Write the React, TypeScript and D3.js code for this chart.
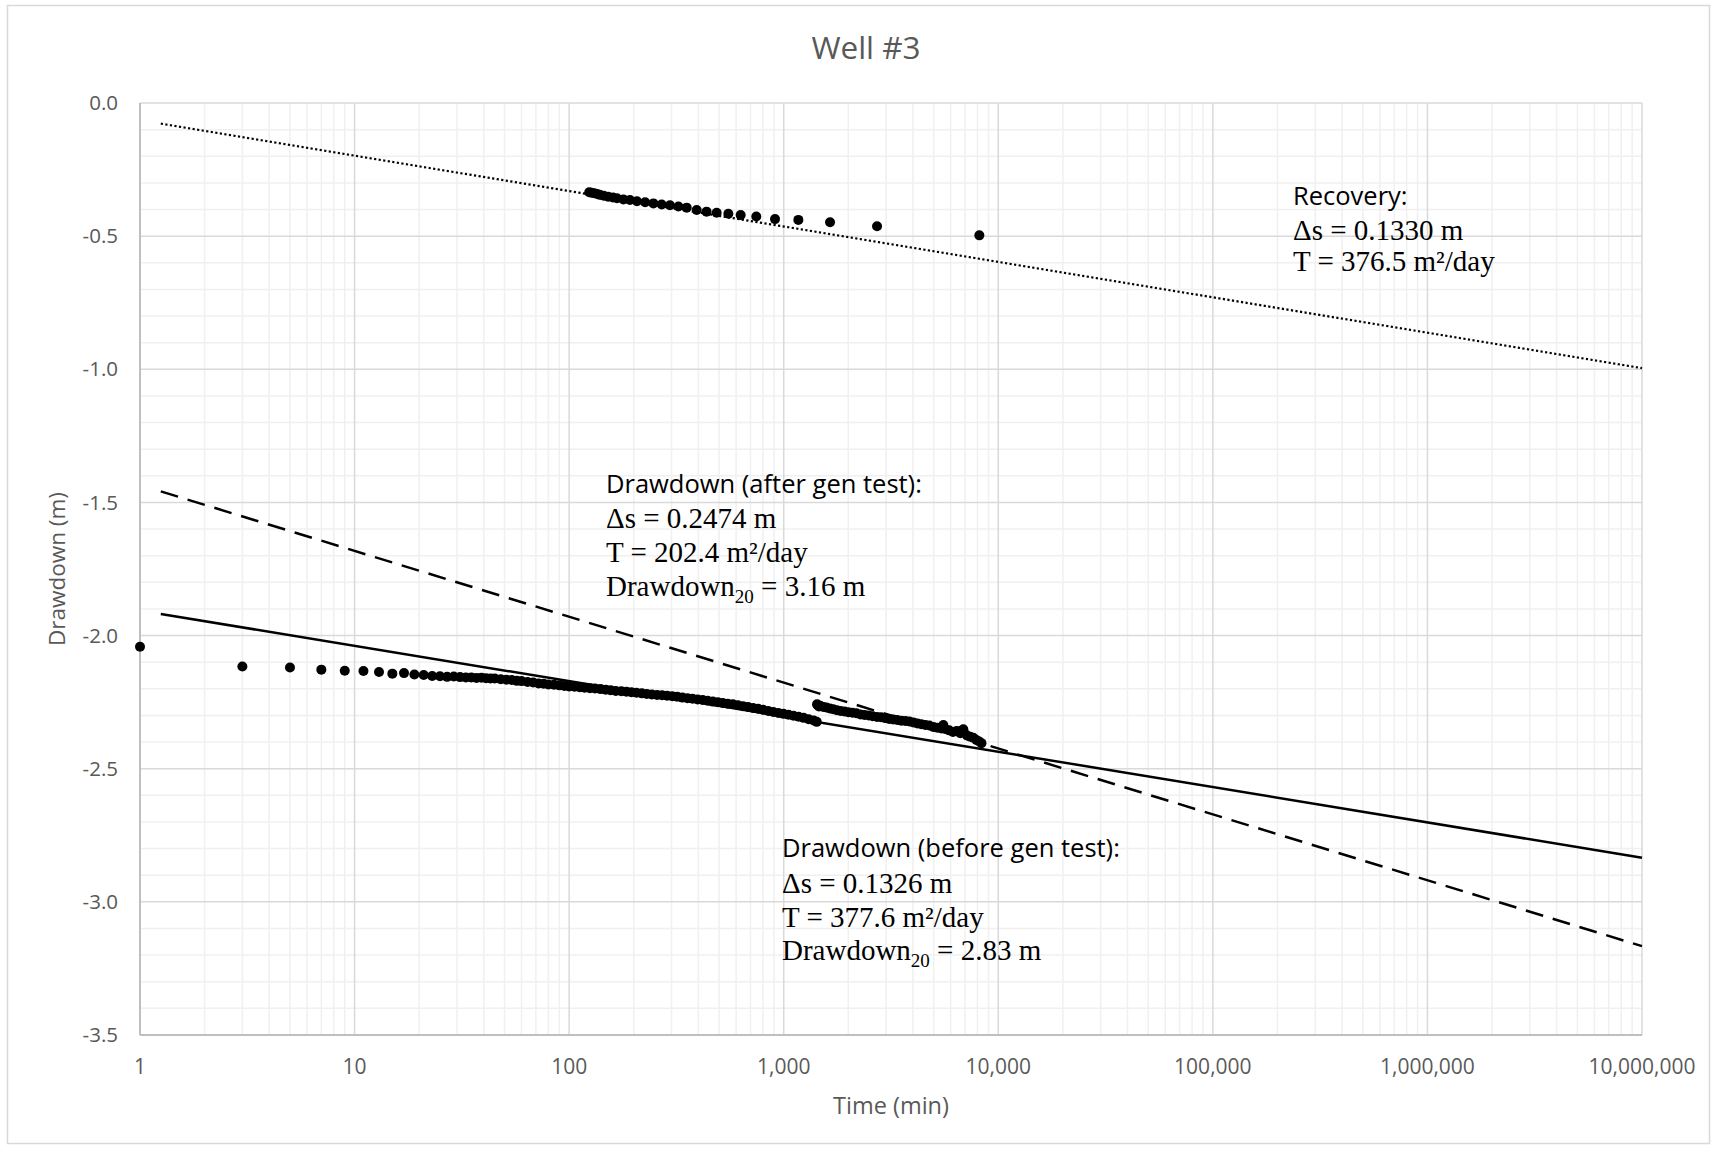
import * as d3 from "d3";
import { useEffect } from "react";

// recovery phase (upper cluster)
const recoveryTime = [124, 127, 131, 135, 139, 145, 152, 160, 167, 179, 192, 207, 226, 247, 270, 295, 323, 353, 393, 437, 487, 552, 630, 745, 911, 1170, 1644, 2722, 8160];
const recoveryDrawdown = [-0.335, -0.337, -0.339, -0.342, -0.345, -0.348, -0.352, -0.355, -0.358, -0.362, -0.364, -0.369, -0.373, -0.377, -0.381, -0.384, -0.389, -0.393, -0.402, -0.408, -0.412, -0.416, -0.421, -0.426, -0.436, -0.439, -0.448, -0.463, -0.497];

// drawdown before the generator test
const beforeTime = [1, 3, 5, 7, 9, 11, 13, 15, 17, 19, 21, 23, 25, 27, 29, 31, 33, 35, 37, 39, 41, 43, 45, 48, 51, 54, 57, 60, 64, 68, 72, 76, 80, 85, 90, 95, 100, 106, 112, 118, 125, 132, 140, 148, 156, 165, 175, 185, 195, 206, 218, 230, 243, 257, 271, 286, 302, 319, 337, 356, 376, 397, 419, 442, 467, 493, 520, 549, 580, 612, 646, 682, 720, 760, 802, 847, 894, 944, 997, 1052, 1111, 1173, 1238, 1307, 1380, 1425];
const beforeDrawdown = [-2.042, -2.116, -2.120, -2.128, -2.132, -2.133, -2.137, -2.143, -2.141, -2.146, -2.148, -2.152, -2.153, -2.155, -2.154, -2.156, -2.157, -2.157, -2.159, -2.158, -2.160, -2.161, -2.161, -2.164, -2.166, -2.167, -2.170, -2.171, -2.174, -2.176, -2.180, -2.181, -2.184, -2.185, -2.187, -2.189, -2.191, -2.192, -2.194, -2.196, -2.198, -2.199, -2.201, -2.203, -2.205, -2.208, -2.209, -2.211, -2.213, -2.215, -2.217, -2.219, -2.221, -2.223, -2.224, -2.226, -2.228, -2.230, -2.233, -2.235, -2.237, -2.240, -2.242, -2.245, -2.248, -2.250, -2.253, -2.256, -2.258, -2.262, -2.265, -2.268, -2.272, -2.275, -2.279, -2.283, -2.287, -2.291, -2.294, -2.297, -2.301, -2.305, -2.309, -2.314, -2.319, -2.324];

// drawdown after the generator test
const afterTime = [1430, 1440, 1460, 1480, 1530, 1580, 1640, 1700, 1770, 1840, 1920, 2000, 2090, 2180, 2280, 2380, 2490, 2600, 2720, 2840, 2970, 3100, 3240, 3380, 3530, 3690, 3850, 4020, 4200, 4380, 4570, 4770, 4980, 5200, 5430, 5546, 5660, 5900, 6150, 6400, 6650, 6700, 6870, 6900, 7150, 7400, 7650, 7900, 8150, 8350];
const afterDrawdown = [-2.258, -2.262, -2.266, -2.264, -2.268, -2.270, -2.274, -2.277, -2.280, -2.283, -2.285, -2.288, -2.290, -2.292, -2.296, -2.298, -2.300, -2.303, -2.306, -2.307, -2.310, -2.313, -2.315, -2.317, -2.320, -2.321, -2.323, -2.326, -2.330, -2.333, -2.336, -2.338, -2.343, -2.346, -2.349, -2.336, -2.351, -2.356, -2.362, -2.358, -2.367, -2.358, -2.352, -2.362, -2.375, -2.380, -2.384, -2.392, -2.398, -2.404];

// Cooper-Jacob straight-line fits: s = a + b*log10(t)
const trendIntercepts = [-0.0647, -1.906, -1.4345];
const trendSlopes = [-0.133, -0.1326, -0.2474];
const trendStart = 1.25;
const trendEnd = 10000000;

const xTicks = [1, 10, 100, 1000, 10000, 100000, 1000000, 10000000];
const yTicks = [0, -0.5, -1, -1.5, -2, -2.5, -3, -3.5];

const W = 1716;
const H = 1150;
const sans = "'Open Sans', 'Noto Sans', sans-serif";
const serif = "'Liberation Serif', 'Times New Roman', serif";

export default function App() {
  useEffect(() => {
    document.body.style.margin = "0";
  }, []);

  const x = d3.scaleLog().domain([1, 10000000]).range([140, 1642]);
  const y = d3.scaleLinear().domain([0, -3.5]).range([103, 1035]);

  // minor grid
  const xMinor: number[] = [];
  for (let d = 0; d < 7; d++) {
    for (let k = 2; k <= 9; k++) xMinor.push(k * Math.pow(10, d));
  }
  const yMinor: number[] = [];
  for (let i = 1; i < 35; i++) if (i % 5 !== 0) yMinor.push(-i / 10);

  const trendStyles = [
    { dash: "2.2,2.4", width: 2.2 },
    { dash: "none", width: 2.5 },
    { dash: "18,10", width: 2.5 },
  ];

  const trendPath = (j: number) => {
    const pts = [trendStart, trendEnd];
    return d3
      .line<number>()
      .x((t) => x(t))
      .y((t) => y(trendIntercepts[j] + trendSlopes[j] * Math.log10(t)))(pts) as string;
  };

  const dots = (ts: number[], ss: number[]) =>
    ts.map((t, i) => <circle key={i} cx={x(t)} cy={y(ss[i])} r={5} fill="#000" />);

  const fmt = d3.format(",");
  const sub = { fontSize: 19 };
  const plotMid = (140 + 1642) / 2;

  return (
    <svg width={W} height={H} style={{ display: "block", position: "absolute", left: 0, top: 0, background: "#fff" }}>
      <rect x={0} y={0} width={W} height={H} fill="#fff" />
      <rect x={7.5} y={5.5} width={1702} height={1138} fill="none" stroke="#d9d9d9" strokeWidth={1.5} />

      {/* minor grid */}
      {xMinor.map((t) => (
        <line key={"xm" + t} x1={x(t)} x2={x(t)} y1={103} y2={1035} stroke="#f0f0f0" strokeWidth={1.5} />
      ))}
      {yMinor.map((v) => (
        <line key={"ym" + v} x1={140} x2={1642} y1={y(v)} y2={y(v)} stroke="#f0f0f0" strokeWidth={1.5} />
      ))}
      {/* major grid */}
      {xTicks.map((t) => (
        <line key={"xM" + t} x1={x(t)} x2={x(t)} y1={103} y2={1035} stroke="#d9d9d9" strokeWidth={1.5} />
      ))}
      {yTicks.map((v) => (
        <line key={"yM" + v} x1={140} x2={1642} y1={y(v)} y2={y(v)} stroke="#d9d9d9" strokeWidth={1.5} />
      ))}
      {/* axis lines */}
      <line x1={140} x2={140} y1={103} y2={1035} stroke="#bfbfbf" strokeWidth={2} />
      <line x1={140} x2={1642} y1={1035} y2={1035} stroke="#bfbfbf" strokeWidth={2} />

      {/* tick labels */}
      {yTicks.map((v) => (
        <text key={"yl" + v} x={118} y={y(v)} dy="0.35em" textAnchor="end" fontFamily={sans} fontSize={20.5} fill="#595959">
          {v === 0 ? "0.0" : v.toFixed(1)}
        </text>
      ))}
      {xTicks.map((t) => (
        <text key={"xl" + t} x={x(t)} y={1074} textAnchor="middle" fontFamily={sans} fontSize={21} fill="#595959">
          {fmt(t)}
        </text>
      ))}

      {/* titles */}
      <text x={866} y={59} textAnchor="middle" fontFamily={sans} fontSize={31.5} fill="#595959">
        Well #3
      </text>
      <text x={plotMid} y={1114} textAnchor="middle" fontFamily={sans} fontSize={23.5} fill="#595959">
        Time (min)
      </text>
      <text transform={`translate(65,569) rotate(-90)`} textAnchor="middle" fontFamily={sans} fontSize={22.5} fill="#595959">
        Drawdown (m)
      </text>

      {/* trend lines */}
      {trendIntercepts.map((_, j) => (
        <path
          key={"tr" + j}
          d={trendPath(j)}
          fill="none"
          stroke="#000"
          strokeWidth={trendStyles[j].width}
          strokeDasharray={trendStyles[j].dash}
        />
      ))}

      {/* data */}
      <g>{dots(recoveryTime, recoveryDrawdown)}</g>
      <g>{dots(beforeTime, beforeDrawdown)}</g>
      <g>{dots(afterTime, afterDrawdown)}</g>

      {/* annotations */}
      <g fill="#000">
        <text x={1293} y={205} fontFamily={sans} fontSize={25.5}>Recovery:</text>
        <text x={1293} y={240} fontFamily={serif} fontSize={29}>Δs = 0.1330 m</text>
        <text x={1293} y={271} fontFamily={serif} fontSize={29}>T = 376.5 m²/day</text>

        <text x={606} y={493} fontFamily={sans} fontSize={25.5}>Drawdown (after gen test):</text>
        <text x={606} y={528} fontFamily={serif} fontSize={29}>Δs = 0.2474 m</text>
        <text x={606} y={562} fontFamily={serif} fontSize={29}>T = 202.4 m²/day</text>
        <text x={606} y={596} fontFamily={serif} fontSize={29}>
          Drawdown<tspan dy={7} style={sub}>20</tspan>
          <tspan dy={-7}> = 3.16 m</tspan>
        </text>

        <text x={782} y={857} fontFamily={sans} fontSize={25.5}>Drawdown (before gen test):</text>
        <text x={782} y={893} fontFamily={serif} fontSize={29}>Δs = 0.1326 m</text>
        <text x={782} y={927} fontFamily={serif} fontSize={29}>T = 377.6 m²/day</text>
        <text x={782} y={960} fontFamily={serif} fontSize={29}>
          Drawdown<tspan dy={7} style={sub}>20</tspan>
          <tspan dy={-7}> = 2.83 m</tspan>
        </text>
      </g>
    </svg>
  );
}
